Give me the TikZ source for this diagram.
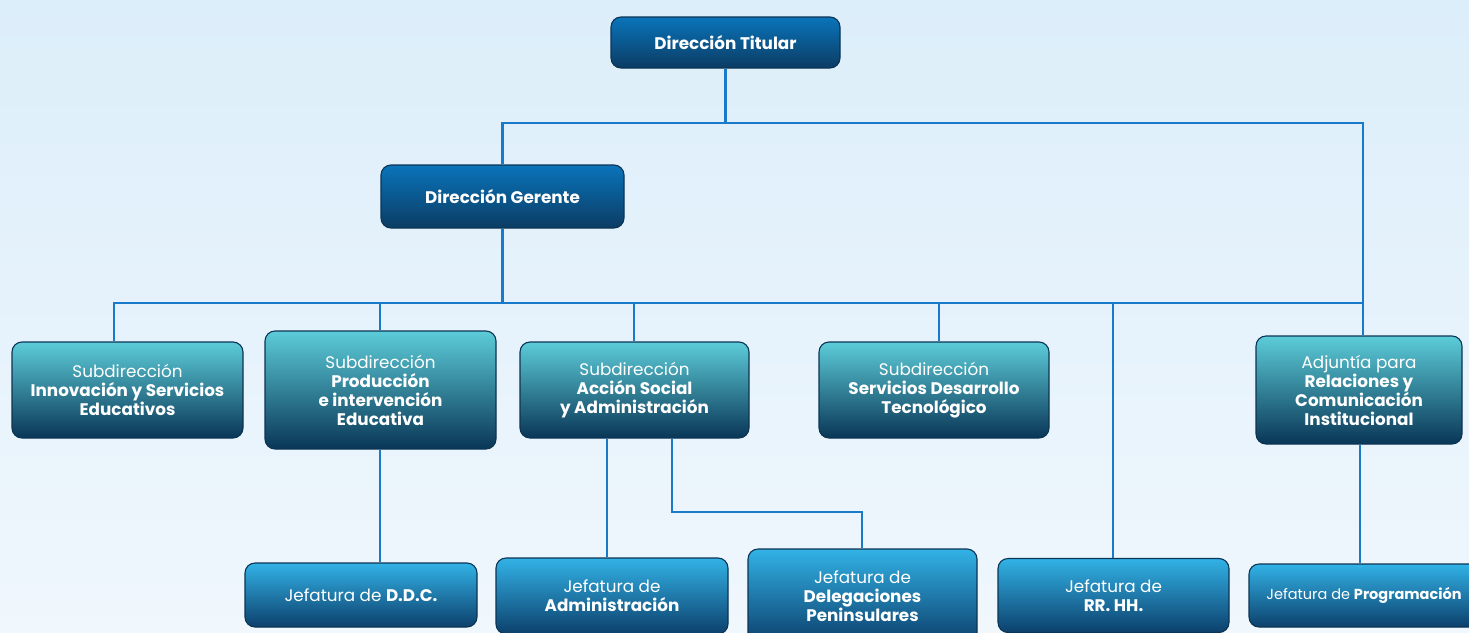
\documentclass[tikz,border=0pt]{standalone}
\usepackage{fontspec}
\setmainfont{Poppins}
\definecolor{bgtop}{RGB}{220,238,250}
\definecolor{bgbot}{RGB}{240,247,253}
\definecolor{conn}{RGB}{24,122,200}
\definecolor{edge}{RGB}{12,52,84}
\definecolor{ttop}{RGB}{10,116,186}
\definecolor{tbot}{RGB}{11,60,100}
\definecolor{mtop}{RGB}{92,204,216}
\definecolor{mbot}{RGB}{9,54,86}
\definecolor{btop}{RGB}{50,178,230}
\definecolor{bbot}{RGB}{12,64,108}
\tikzset{
  card/.style={draw=edge, line width=1.1pt, rounded corners=10pt, inner sep=0pt,
    text=white, align=center, font=\fontsize{16.8}{19}\selectfont},
  topcard/.style={card, top color=ttop, bottom color=tbot},
  midcard/.style={card, top color=mtop, bottom color=mbot},
  botcard/.style={card, top color=btop, bottom color=bbot},
  link/.style={draw=conn, line width=2.4pt}
}
\begin{document}
\begin{tikzpicture}[x=1pt,y=-1pt]
\useasboundingbox (0,0) rectangle (1469,632);
\clip (0,0) rectangle (1469,632);
\shade[top color=bgtop, bottom color=bgbot] (0,0) rectangle (1469,632);

% boxes
\node[topcard, minimum width=229pt, minimum height=51pt] (T) at (725.5,42.5) {\bfseries Dirección Titular};
\node[topcard, minimum width=243pt, minimum height=63pt] (G) at (502.5,196.5) {\bfseries Dirección Gerente};

\node[midcard, minimum width=231pt, minimum height=96pt] (S1) at (127.5,390) {Subdirección\\\bfseries Innovación y Servicios\\\bfseries Educativos};
\node[midcard, minimum width=231pt, minimum height=118pt] (S2) at (380.5,390) {Subdirección\\\bfseries Producción\\\bfseries e intervención\\\bfseries Educativa};
\node[midcard, minimum width=229pt, minimum height=96pt] (S3) at (634.5,390) {Subdirección\\\bfseries Acción Social\\\bfseries y Administración};
\node[midcard, minimum width=230pt, minimum height=96pt] (S4) at (934,390) {Subdirección\\\bfseries Servicios Desarrollo\\\bfseries Tecnológico};
\node[midcard, minimum width=206pt, minimum height=108pt] (A) at (1359,390) {Adjuntía para\\\bfseries Relaciones y\\\bfseries Comunicación\\\bfseries Institucional};

\node[botcard, minimum width=232pt, minimum height=64pt] (J1) at (361,595) {Jefatura de \textbf{D.D.C.}};
\node[botcard, minimum width=232pt, minimum height=76pt] (J2) at (612,596) {Jefatura de\\\bfseries Administración};
\node[botcard, minimum width=229pt, minimum height=94pt] (J3) at (862.5,596) {Jefatura de\\\bfseries Delegaciones\\\bfseries Peninsulares};
\node[botcard, minimum width=231pt, minimum height=74pt] (J4) at (1113.5,595.5) {Jefatura de\\\bfseries RR. HH.};
\node[botcard, minimum width=230pt, minimum height=63pt, font=\fontsize{14.5}{17}\selectfont] (J5) at (1364,595.5) {Jefatura de \textbf{Programación}};

% bus coordinates
\coordinate (b1) at (0,123);
\coordinate (b2) at (0,303);
\coordinate (b3) at (0,512);
\coordinate (d1) at (114,0);
\coordinate (d2) at (380,0);
\coordinate (d3) at (634,0);
\coordinate (d4) at (939,0);
\coordinate (d5) at (1113,0);
\coordinate (d6) at (1363,0);
\coordinate (e1) at (607,0);
\coordinate (e2) at (672,0);
\coordinate (e3) at (862,0);
\coordinate (e4) at (1360,0);

% connectors
\draw[link] (T.south) -- (T.south |- b1);
\draw[link] (G.north) -- (G.north |- b1) -- (d6 |- b1) -- (d6 |- A.north);
\draw[link] (G.south) -- (G.south |- b2);
\draw[link] (d1 |- S1.north) -- (d1 |- b2) -- (d6 |- b2);
\draw[link] (d2 |- b2) -- (d2 |- S2.north);
\draw[link] (d3 |- b2) -- (d3 |- S3.north);
\draw[link] (d4 |- b2) -- (d4 |- S4.north);
\draw[link] (d5 |- b2) -- (d5 |- J4.north);
\draw[link] (d2 |- S2.south) -- (d2 |- J1.north);
\draw[link] (e1 |- S3.south) -- (e1 |- J2.north);
\draw[link] (e2 |- S3.south) -- (e2 |- b3) -- (e3 |- b3) -- (e3 |- J3.north);
\draw[link] (e4 |- A.south) -- (e4 |- J5.north);
\end{tikzpicture}
\end{document}
